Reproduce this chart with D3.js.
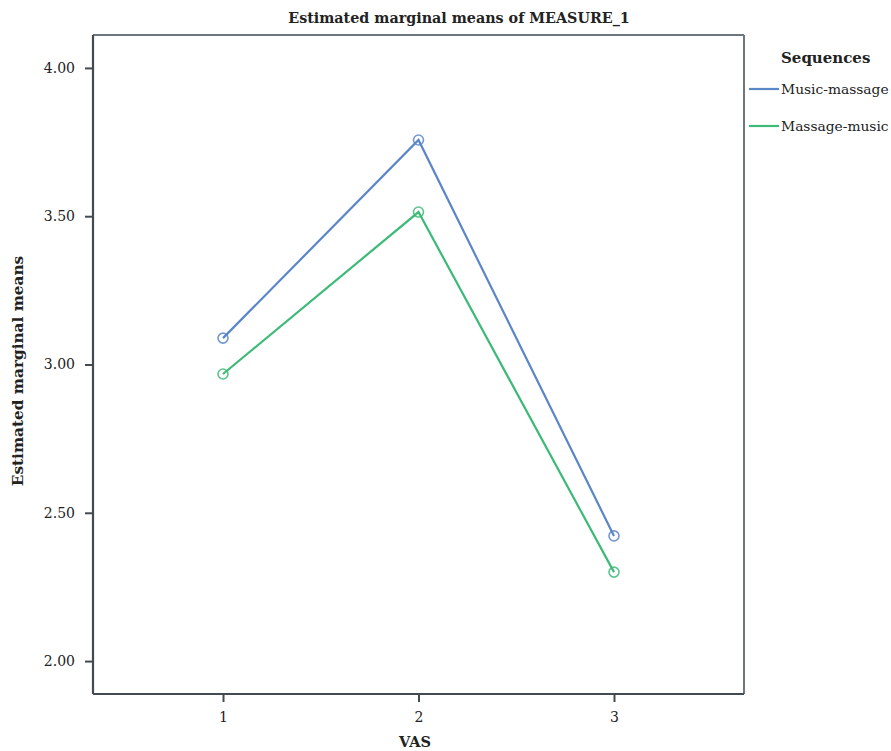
<!DOCTYPE html>
<html><head><meta charset="utf-8">
<script src="https://cdn.jsdelivr.net/npm/d3@7"></script>
<style>body{margin:0;background:#fff;} text{font-family:"DejaVu Serif",serif;fill:#222;}</style>
</head><body>
<svg id="c" width="891" height="751"></svg>
<script>
const categories = [1, 2, 3];
const seriesNames = ["Music-massage", "Massage-music"];
const musicMassage = [3.089, 3.757, 2.422];
const massageMusic = [2.968, 3.514, 2.300];
const yTicks = [2.00, 2.50, 3.00, 3.50, 4.00];
const colors = ["#5b86c8", "#3dba78"];

const svg = d3.select("#c");
const L = 93, T = 35, R = 744, B = 694;
const x = d3.scaleLinear().domain([0.335, 3.665]).range([L, R]);
const y = d3.scaleLinear().domain([1.889, 4.111]).range([B, T]);

svg.append("line").attr("x1", L).attr("x2", R).attr("y1", T).attr("y2", T).attr("stroke", "#6e777d").attr("stroke-width", 2);
svg.append("line").attr("x1", R).attr("x2", R).attr("y1", T).attr("y2", B).attr("stroke", "#6e777d").attr("stroke-width", 2);

const yAxis = d3.axisLeft(y).tickValues(yTicks).tickFormat(d3.format(".2f")).tickSize(8).tickPadding(10);
const gy = svg.append("g").attr("transform", `translate(${L},0)`).call(yAxis);
const xAxis = d3.axisBottom(x).tickValues(categories).tickFormat(d3.format("d")).tickSize(8).tickPadding(10);
const gx = svg.append("g").attr("transform", `translate(0,${B})`).call(xAxis);
[gx, gy].forEach(g => {
  g.select(".domain").attr("stroke", "#434b50").attr("stroke-width", 2.2);
  g.selectAll(".tick line").attr("stroke", "#434b50").attr("stroke-width", 2);
  g.selectAll(".tick text").style("font-family", "DejaVu Serif, serif").style("font-size", "14px").attr("fill", "#222");
});
gx.select(".domain").attr("d", `M${L},0H${R}`);
gy.select(".domain").attr("d", `M0,${T}V${B}`);

const data = [musicMassage, massageMusic];
const line = d3.line().x((d, i) => x(categories[i])).y(d => y(d));
data.forEach((vals, s) => {
  svg.append("path").datum(vals).attr("d", line).attr("fill", "none").attr("stroke", colors[s]).attr("stroke-width", 2.2);
  svg.selectAll(null).data(vals).enter().append("circle")
    .attr("cx", (d, i) => x(categories[i])).attr("cy", d => y(d)).attr("r", 5)
    .attr("fill", "none").attr("stroke", colors[s]).attr("stroke-width", 1.6).attr("opacity", 0.85);
});

svg.append("text").attr("x", 459).attr("y", 23).attr("text-anchor", "middle")
  .style("font-weight", "bold").style("font-size", "14.3px").text("Estimated marginal means of MEASURE_1");
svg.append("text").attr("x", 415).attr("y", 747).attr("text-anchor", "middle")
  .style("font-weight", "bold").style("font-size", "14.5px").text("VAS");
svg.append("text").attr("transform", "translate(23,371) rotate(-90)").attr("text-anchor", "middle")
  .style("font-weight", "bold").style("font-size", "15.3px").text("Estimated marginal means");

svg.append("text").attr("x", 781).attr("y", 63).style("font-weight", "bold").style("font-size", "15px").text("Sequences");
seriesNames.forEach((n, i) => {
  const ly = 89 + i * 37;
  svg.append("line").attr("x1", 749).attr("x2", 779).attr("y1", ly).attr("y2", ly).attr("stroke", colors[i]).attr("stroke-width", 2.2);
  svg.append("text").attr("x", 781).attr("y", ly + 5).style("font-size", "13.8px").text(n);
});
</script>
</body></html>
